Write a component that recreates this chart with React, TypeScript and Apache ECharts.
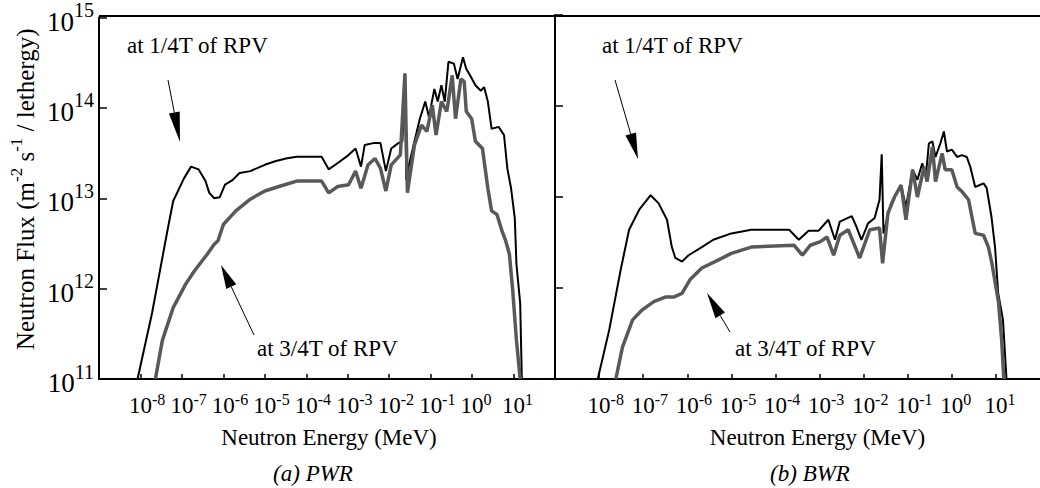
import React, { useEffect, useRef } from 'react';
import * as echarts from 'echarts';

const FONT = 'Liberation Serif';

// ---- Data (log10 of energy in MeV, log10 of flux) ----
// PWR, at 1/4T of RPV
const pwrQuarterLogE = [-8.07, -7.72, -7.35, -7.21, -6.95, -6.78, -6.6, -6.43, -6.34, -6.22, -6.09, -5.96, -5.78, -5.61, -5.35, -5.0, -4.75, -4.49, -4.23, -3.63, -3.46, -3.24, -3.03, -2.81, -2.68, -2.59, -2.38, -2.21, -2.08, -1.95, -1.78, -1.68, -1.62, -1.59, -1.52, -1.39, -1.26, -1.13, -1.04, -0.91, -0.83, -0.74, -0.66, -0.57, -0.44, -0.35, -0.22, -0.14, -0.05, 0.08, 0.21, 0.29, 0.38, 0.47, 0.64, 0.77, 0.85, 0.94, 1.03, 1.07, 1.16, 1.2];
const pwrQuarterLogF = [11.0, 11.73, 12.64, 12.97, 13.22, 13.35, 13.32, 13.19, 13.06, 13.0, 13.01, 13.15, 13.2, 13.28, 13.3, 13.37, 13.41, 13.44, 13.46, 13.46, 13.32, 13.39, 13.46, 13.55, 13.35, 13.59, 13.61, 13.61, 13.3, 13.55, 13.61, 13.63, 14.38, 13.2, 13.37, 13.63, 13.88, 14.07, 13.9, 14.21, 14.07, 14.25, 14.07, 14.51, 14.49, 14.32, 14.56, 14.43, 14.36, 14.25, 14.19, 14.23, 14.07, 13.77, 13.79, 13.7, 13.33, 13.11, 12.78, 12.27, 11.84, 11.0];
// PWR, at 3/4T of RPV
const pwrThreeQuarterLogE = [-7.64, -7.47, -7.21, -6.91, -6.69, -6.39, -6.22, -6.13, -6.0, -5.7, -5.35, -5.0, -4.66, -4.23, -3.63, -3.46, -3.24, -2.98, -2.81, -2.68, -2.51, -2.34, -2.21, -2.08, -1.95, -1.73, -1.62, -1.56, -1.39, -1.22, -1.09, -0.96, -0.87, -0.74, -0.61, -0.48, -0.4, -0.27, -0.19, -0.14, -0.01, 0.08, 0.25, 0.38, 0.47, 0.6, 0.72, 0.81, 0.9, 0.98, 1.07, 1.16];
const pwrThreeQuarterLogF = [11.0, 11.43, 11.79, 12.05, 12.2, 12.38, 12.49, 12.53, 12.71, 12.86, 12.99, 13.08, 13.13, 13.19, 13.19, 13.06, 13.13, 13.15, 13.3, 13.11, 13.37, 13.44, 13.33, 13.08, 13.37, 13.48, 14.38, 13.06, 13.59, 13.81, 13.74, 14.03, 13.7, 14.07, 13.96, 14.36, 13.88, 14.32, 14.29, 13.96, 13.88, 13.63, 13.55, 13.11, 12.86, 12.82, 12.64, 12.53, 12.38, 11.98, 11.43, 11.0];
// BWR, at 1/4T of RPV
const bwrQuarterLogE = [-8.03, -7.77, -7.51, -7.32, -7.09, -6.83, -6.65, -6.46, -6.35, -6.27, -6.12, -5.97, -5.67, -5.41, -5.0, -4.55, -3.69, -3.47, -3.25, -3.02, -2.8, -2.65, -2.54, -2.27, -2.16, -2.05, -1.9, -1.75, -1.64, -1.59, -1.55, -1.38, -1.15, -1.04, -0.89, -0.78, -0.67, -0.59, -0.52, -0.44, -0.37, -0.26, -0.18, -0.11, 0.0, 0.12, 0.23, 0.34, 0.42, 0.53, 0.72, 0.79, 0.9, 0.98, 1.05, 1.16, 1.24];
const bwrQuarterLogF = [11.0, 11.54, 12.2, 12.64, 12.86, 13.02, 12.93, 12.75, 12.45, 12.33, 12.29, 12.36, 12.45, 12.53, 12.6, 12.64, 12.64, 12.53, 12.63, 12.63, 12.75, 12.53, 12.73, 12.79, 12.67, 12.53, 12.71, 12.77, 12.97, 13.47, 12.6, 12.93, 13.13, 12.89, 13.3, 13.19, 13.37, 13.22, 13.59, 13.61, 13.44, 13.59, 13.72, 13.5, 13.52, 13.44, 13.46, 13.44, 13.33, 13.11, 13.15, 13.1, 12.78, 12.45, 11.95, 11.65, 11.0];
// BWR, at 3/4T of RPV
const bwrThreeQuarterLogE = [-7.62, -7.47, -7.24, -7.02, -6.76, -6.5, -6.31, -6.12, -5.94, -5.67, -5.37, -5.0, -4.55, -3.58, -3.39, -3.21, -2.98, -2.83, -2.68, -2.54, -2.35, -2.09, -1.86, -1.64, -1.57, -1.45, -1.3, -1.15, -1.04, -0.89, -0.78, -0.63, -0.56, -0.44, -0.37, -0.22, -0.15, 0.0, 0.12, 0.23, 0.38, 0.53, 0.72, 0.83, 0.91, 1.06, 1.13, 1.18];
const bwrThreeQuarterLogF = [11.0, 11.35, 11.65, 11.76, 11.85, 11.9, 11.9, 11.94, 12.09, 12.22, 12.29, 12.38, 12.45, 12.47, 12.36, 12.47, 12.51, 12.56, 12.36, 12.58, 12.64, 12.33, 12.64, 12.66, 12.27, 12.82, 13.0, 13.13, 12.75, 13.3, 13.0, 13.33, 13.17, 13.55, 13.17, 13.48, 13.3, 13.3, 13.11, 13.06, 12.97, 12.6, 12.58, 12.45, 12.27, 11.84, 11.43, 11.0];

const energyMin = 1e-9;
const energyMax = 1e2;
const fluxMin = 1e11;
const fluxMax = 1e15;

const pairs = (le: number[], lf: number[]) => le.map((e, i) => [Math.pow(10, e), Math.pow(10, lf[i])]);

const xRich = {
  b: { fontSize: 23, lineHeight: 23, padding: [6, 0, 0, 0], fontFamily: FONT, color: '#000' },
  s: { fontSize: 16, lineHeight: 16, padding: [3.5, 0, 9.5, 0], fontFamily: FONT, color: '#000' },
  p1: { fontSize: 16, lineHeight: 16, width: 8, padding: [3.5, 0, 9.5, 0], fontFamily: FONT },
  p2: { fontSize: 16, lineHeight: 16, width: 13.3, padding: [3.5, 0, 9.5, 0], fontFamily: FONT },
};
const xLabel = (v: number) => {
  const n = Math.round(Math.log10(v));
  if (n <= -9 || n >= 2) return '';
  const s = String(n);
  return `{${s.length > 1 ? 'p2' : 'p1'}| }{b|10}{s|${s}}`;
};
const yRich = {
  b: { fontSize: 27, lineHeight: 27, padding: [8, 0, 0, 0], fontFamily: FONT, color: '#000' },
  s: { fontSize: 20, lineHeight: 20, padding: [0, 0, 15, 0], fontFamily: FONT, color: '#000' },
};
const yLabel = (v: number) => `{b|10}{s|${Math.round(Math.log10(v))}}`;

const plainRich = {
  t: { fontSize: 23, lineHeight: 23, fontFamily: FONT, color: '#000' },
  i: { fontSize: 23, lineHeight: 23, fontFamily: FONT, fontStyle: 'italic', color: '#000' },
};

function arrow(x1: number, y1: number, x2: number, y2: number, len: number, half: number) {
  const dx = x2 - x1, dy = y2 - y1;
  const L = Math.hypot(dx, dy);
  const ux = dx / L, uy = dy / L;
  const bx = x2 - ux * len, by = y2 - uy * len;
  const px = -uy, py = ux;
  return [
    { type: 'line', shape: { x1, y1, x2: bx, y2: by }, style: { stroke: '#000', lineWidth: 1 } },
    { type: 'polygon', shape: { points: [[x2, y2], [bx + px * half, by + py * half], [bx - px * half, by - py * half]] }, style: { fill: '#000' } },
  ];
}
const txt = (text: string, x: number, y: number, align: string, italic = false) => ({
  type: 'text', x, y,
  style: {
    text: `{${italic ? 'i' : 't'}|${text}}`, rich: plainRich,
    fill: '#000', textAlign: align, textVerticalAlign: 'middle', fontFamily: FONT, fontSize: 23,
  },
});

export default function App() {
  const ref = useRef<HTMLDivElement>(null);
  useEffect(() => {
    if (!ref.current) return;
    const chart = echarts.init(ref.current, null, { renderer: 'svg' });
    const axisLine = { show: true, lineStyle: { color: '#000', width: 2 } };
    const xAxes: any[] = [0, 1].map((i) => ({
      type: 'log', logBase: 10, gridIndex: i, min: energyMin, max: energyMax, interval: 1, splitNumber: 11,
      name: '{t|Neutron Energy (MeV)}', nameLocation: 'middle', nameGap: 47,
      nameTextStyle: { fontSize: 23, lineHeight: 23, fontFamily: FONT, color: '#000', rich: plainRich, padding: i ? [0, 0, 0, 40] : [0, 0, 0, 4] },
      axisLine,
      axisTick: { show: true, inside: true, length: 5, lineStyle: { color: '#000', width: 1.5 } },
      minorTick: { show: false },
      splitLine: { show: false },
      axisLabel: { formatter: xLabel, margin: 11.5, rich: xRich, showMinLabel: false, showMaxLabel: false, fontFamily: FONT },
    }));
    const yAxes: any[] = [0, 1].map((i) => ({
      type: 'log', logBase: 10, gridIndex: i, min: fluxMin, max: fluxMax, interval: 1, splitNumber: 4,
      name: i ? '' : '{a|Neutron Flux (m}{s|-2}{a| s}{s|-1}{a| / lethergy)}',
      nameLocation: 'middle', nameGap: 64, nameRotate: 90,
      nameTextStyle: {
        fontFamily: FONT, color: '#000', padding: [0, 0, 0, 18],
        rich: {
          a: { fontSize: 25, lineHeight: 25, padding: [6, 0, 0, 0], fontFamily: FONT, color: '#000' },
          s: { fontSize: 17, lineHeight: 17, padding: [1, 0, 13, 0], fontFamily: FONT, color: '#000' },
        },
      },
      axisLine,
      axisTick: { show: true, inside: true, length: 8, lineStyle: { color: '#000', width: 1.5 } },
      minorTick: { show: false },
      splitLine: { show: false },
      axisLabel: { show: i === 0, formatter: yLabel, margin: 5, rich: yRich, fontFamily: FONT },
    }));
    const black = { color: '#000', width: 2 };
    const gray = { color: '#595959', width: 3.5 };
    chart.setOption({
      animation: false,
      backgroundColor: '#fff',
      textStyle: { fontFamily: FONT, color: '#000' },
      grid: [
        { left: 99, top: 15, width: 456, height: 364 },
        { left: 555, top: 15, width: 490, height: 364 },
      ],
      xAxis: xAxes,
      yAxis: yAxes,
      series: [
        { name: 'PWR at 1/4T of RPV', type: 'line', xAxisIndex: 0, yAxisIndex: 0, data: pairs(pwrQuarterLogE, pwrQuarterLogF), symbol: 'none', lineStyle: black, z: 2 },
        { name: 'PWR at 3/4T of RPV', type: 'line', xAxisIndex: 0, yAxisIndex: 0, data: pairs(pwrThreeQuarterLogE, pwrThreeQuarterLogF), symbol: 'none', lineStyle: gray, z: 3 },
        { name: 'BWR at 1/4T of RPV', type: 'line', xAxisIndex: 1, yAxisIndex: 1, data: pairs(bwrQuarterLogE, bwrQuarterLogF), symbol: 'none', lineStyle: black, z: 2 },
        { name: 'BWR at 3/4T of RPV', type: 'line', xAxisIndex: 1, yAxisIndex: 1, data: pairs(bwrThreeQuarterLogE, bwrThreeQuarterLogF), symbol: 'none', lineStyle: gray, z: 3 },
      ],
      graphic: [
        { type: 'rect', z: 100, shape: { x: 99, y: 15, width: 941, height: 2 }, style: { fill: '#000' } },
        { type: 'rect', z: 100, shape: { x: 554, y: 15, width: 2, height: 364 }, style: { fill: '#000' } },
        txt('at 1/4T of RPV', 127, 45, 'left'),
        txt('at 1/4T of RPV', 602, 45, 'left'),
        txt('at 3/4T of RPV', 257, 348, 'left'),
        txt('at 3/4T of RPV', 735, 348, 'left'),
        txt('(a) PWR', 313, 473, 'center', true),
        txt('(b) BWR', 810, 473, 'center', true),
        ...arrow(168, 80, 180, 142, 30, 5.5),
        ...arrow(615, 80, 638, 159, 26, 5.5),
        ...arrow(254, 335, 221, 265, 24, 5.5),
        ...arrow(730, 332, 707, 293, 26, 5.5),
      ],
    });
    return () => chart.dispose();
  }, []);
  return <div ref={ref} style={{ position: 'absolute', left: 0, top: 0, width: 1040, height: 488 }} />;
}
